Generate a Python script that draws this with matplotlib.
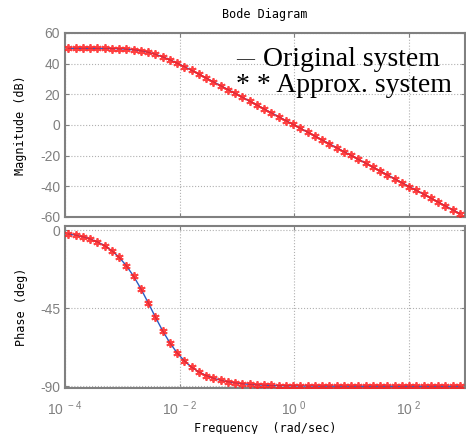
import numpy as np
import matplotlib
matplotlib.use("Agg")
import matplotlib.pyplot as plt
from matplotlib.ticker import FixedLocator, NullLocator

# frequency points (rad/sec)
freq = [1.148e-4, 1.536e-4, 2.056e-4, 2.751e-4, 3.681e-4, 4.925e-4, 6.592e-4,
        8.820e-4, 1.180e-3, 1.579e-3, 2.113e-3, 2.828e-3, 3.784e-3, 5.064e-3,
        6.776e-3, 9.068e-3, 1.213e-2, 1.624e-2, 2.173e-2, 2.907e-2, 3.890e-2,
        5.206e-2, 6.966e-2, 9.322e-2, 0.1247, 0.1669, 0.2234, 0.2989, 0.3999,
        0.5352, 0.7161, 0.9583, 1.282, 1.716, 2.296, 3.073, 4.111, 5.502,
        7.362, 9.851, 13.18, 17.64, 23.60, 31.59, 42.27, 56.56, 75.68, 101.3,
        135.5, 181.4, 242.7, 324.8, 434.5, 581.5, 778.0]

# magnitude (dB)
mag_db = [49.99, 49.99, 49.98, 49.97, 49.94, 49.90, 49.82, 49.67, 49.43, 49.03,
          48.40, 47.45, 46.14, 44.48, 42.52, 40.35, 38.03, 35.63, 33.17, 30.68,
          28.17, 25.65, 23.13, 20.61, 18.08, 15.55, 13.02, 10.49, 7.96, 5.43,
          2.90, 0.37, -2.16, -4.69, -7.22, -9.75, -12.28, -14.81, -17.34,
          -19.87, -22.40, -24.93, -27.46, -29.99, -32.52, -35.05, -37.58,
          -40.11, -42.64, -45.17, -47.70, -50.23, -52.76, -55.29, -57.82]

# phase (deg)
phase_deg = [-2.08, -2.78, -3.72, -4.97, -6.64, -8.86, -11.77, -15.59, -20.47,
             -26.54, -33.75, -41.81, -50.12, -58.01, -64.98, -70.78, -75.39,
             -79.02, -81.72, -83.79, -85.35, -86.52, -87.40, -88.06, -88.55,
             -88.91, -89.19, -89.39, -89.55, -89.66, -89.75, -89.81, -89.86,
             -89.89, -89.92, -89.94, -89.96, -89.97, -89.98, -89.98, -89.99,
             -89.99, -89.99, -89.99, -90.0, -90.0, -90.0, -90.0, -90.0, -90.0,
             -90.0, -90.0, -90.0, -90.0, -90.0]

xticks = [1e-4, 1e-2, 1e0, 1e2]
xticklabels = [r'$\mathregular{10^{\ -4}}$', r'$\mathregular{10^{\ -2}}$',
               r'$\mathregular{10^{\ 0}}$', r'$\mathregular{10^{\ 2}}$']
mag_ticks = [60, 40, 20, 0, -20, -40, -60]
phase_ticks = [0, -45, -90]

label_font = 'DejaVu Sans Mono'
tick_font = 'Liberation Sans'
grey = '#808080'
star = dict(linestyle='none', marker=(6, 2, 0), markersize=6,
            markeredgewidth=1.3, color='#ff2020', alpha=0.85, zorder=3)

fig = plt.figure(figsize=(4.66, 4.34), dpi=100)
ax1 = fig.add_axes([65/466, 1 - 217/434, 400/466, 184/434])
ax2 = fig.add_axes([65/466, 1 - 388/434, 400/466, 162/434])

for ax in (ax1, ax2):
    ax.set_xscale('log')
    ax.set_xlim(1e-4, 10**2.98)
    ax.xaxis.set_major_locator(FixedLocator(xticks))
    ax.xaxis.set_minor_locator(NullLocator())
    ax.grid(True, which='major', color='#b0b0b0', linestyle=':', linewidth=0.8)
    for s in ax.spines.values():
        s.set_color(grey)
        s.set_linewidth(1.5)
    ax.tick_params(direction='in', top=True, right=True, length=3,
                   color=grey, labelcolor=grey, labelsize=10)
    ax.tick_params(axis='x', pad=8)

# magnitude plot
ax1.plot(freq, mag_db, color='#2a5cc4', linewidth=1.0, zorder=2)
ax1.plot(freq, mag_db, **star)
ax1.set_ylim(-60, 60)
ax1.set_yticks(mag_ticks)
ax1.set_yticklabels([str(v) for v in mag_ticks], family=tick_font)
ax1.set_xticklabels([])
ax1.set_ylabel('Magnitude (dB)', family=label_font, fontsize=8.5, labelpad=9)
ax1.set_title('Bode Diagram', family=label_font, fontsize=8.5, pad=11)

# legend drawn as text, like the original
ax1.text(0.4275, 0.855, u'\u2014', transform=ax1.transAxes,
         family='Liberation Serif', fontsize=13, ha='left', va='center')
ax1.text(0.495, 0.855, 'Original system', transform=ax1.transAxes,
         family='Liberation Serif', fontsize=20, ha='left', va='center')
ax1.text(0.4275, 0.715, '* * Approx. system', transform=ax1.transAxes,
         family='Liberation Serif', fontsize=20, ha='left', va='center')

# phase plot
ax2.plot(freq, phase_deg, color='#2a5cc4', linewidth=1.0, zorder=2)
ax2.plot(freq, phase_deg, **star)
ax2.set_ylim(-91, 2.5)
ax2.set_yticks(phase_ticks)
ax2.set_yticklabels([str(v) for v in phase_ticks], family=tick_font)
ax2.set_xticklabels(xticklabels, family=tick_font)
ax2.set_ylabel('Phase (deg)', family=label_font, fontsize=8.5, labelpad=9)
ax2.set_xlabel('Frequency  (rad/sec)', family=label_font, fontsize=8.5,
               labelpad=3)

fig.savefig('out.png', dpi=100)
